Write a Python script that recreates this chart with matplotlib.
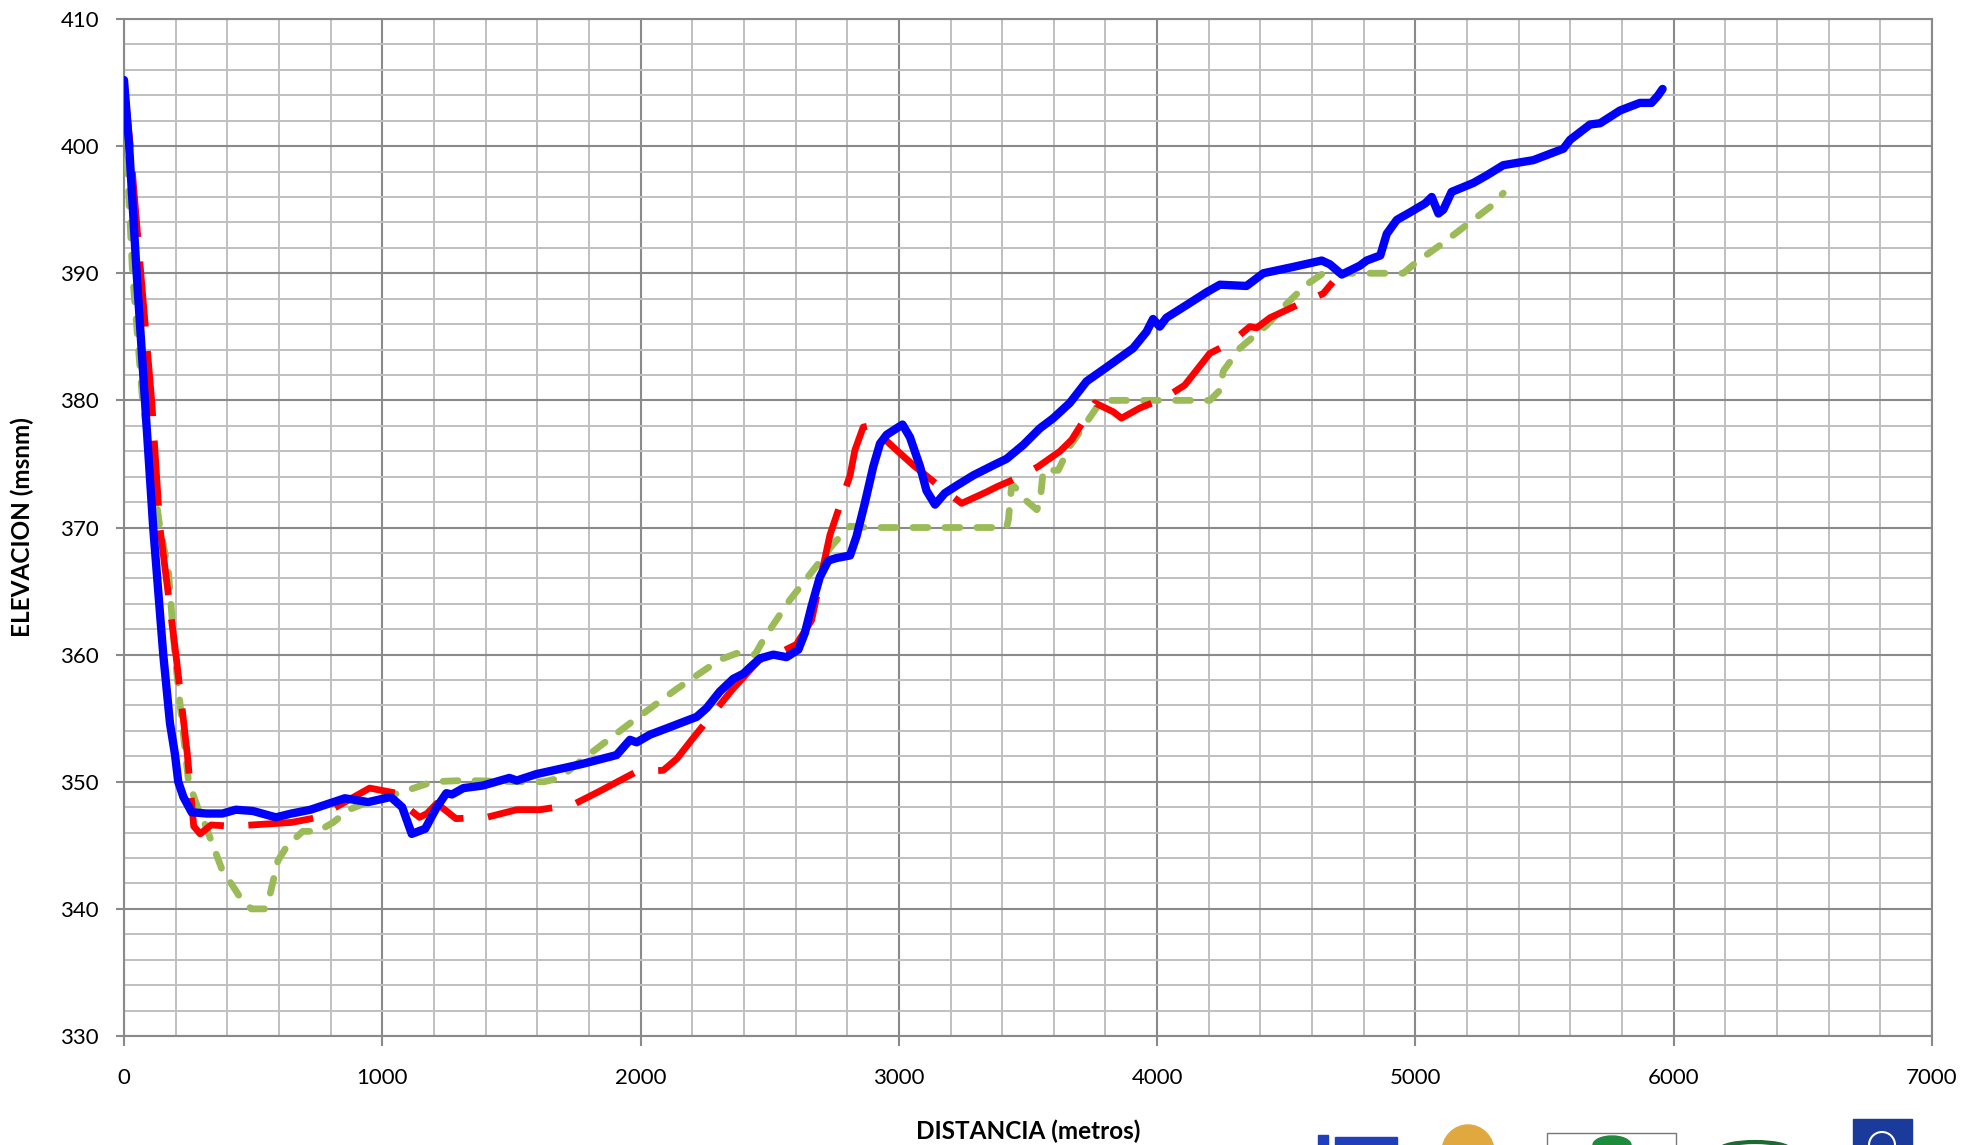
import matplotlib
matplotlib.use("Agg")
import matplotlib.pyplot as plt
from matplotlib.patches import Rectangle, Circle, Ellipse
import numpy as np

plt.rcParams['font.family'] = ['Lato', 'DejaVu Sans']

# ---------------- data ----------------
dist_blue = [0, 20, 49, 81, 113, 152, 178, 197, 210, 230, 262, 320, 381, 433, 499, 588, 648, 722,
             796, 855, 945, 1033, 1077, 1114, 1166, 1211, 1248, 1270, 1314, 1389, 1492, 1521, 1596,
             1774, 1907, 1959, 1985, 2036, 2101, 2178, 2217, 2256, 2307, 2359, 2398, 2424, 2462,
             2514, 2565, 2611, 2636, 2662, 2694, 2727, 2759, 2811, 2836, 2868, 2901, 2927, 2953,
             3014, 3043, 3082, 3107, 3140, 3178, 3224, 3288, 3366, 3417, 3482, 3546, 3598, 3662,
             3727, 3804, 3907, 3959, 3984, 4010, 4036, 4114, 4191, 4243, 4346, 4411, 4527, 4637,
             4669, 4715, 4785, 4811, 4864, 4889, 4928, 4980, 5038, 5063, 5089, 5108, 5140, 5224,
             5276, 5340, 5457, 5573, 5599, 5676, 5715, 5792, 5830, 5869, 5914, 5940, 5957]
elev_blue = [405.2, 400, 390, 380, 370, 360, 354.6, 352.2, 350, 348.8, 347.6, 347.5, 347.5, 347.8,
             347.7, 347.2, 347.5, 347.8, 348.3, 348.7, 348.4, 348.8, 348.0, 345.9, 346.3, 348.0,
             349.1, 349.0, 349.5, 349.7, 350.3, 350.1, 350.6, 351.4, 352.1, 353.3, 353.1, 353.7,
             354.2, 354.8, 355.1, 355.8, 357.1, 358.1, 358.5, 359.0, 359.7, 360.0, 359.8, 360.4,
             361.7, 363.8, 366.1, 367.4, 367.6, 367.8, 369.3, 371.9, 374.8, 376.6, 377.3, 378.1,
             377.1, 374.8, 372.9, 371.8, 372.7, 373.3, 374.1, 374.9, 375.4, 376.5, 377.8, 378.6,
             379.8, 381.5, 382.6, 384.1, 385.4, 386.4, 385.8, 386.5, 387.5, 388.5, 389.1, 389.0,
             390.0, 390.5, 391.0, 390.7, 389.9, 390.6, 391.0, 391.4, 393.1, 394.2, 394.8, 395.5,
             396.0, 394.7, 395.0, 396.4, 397.1, 397.7, 398.5, 398.9, 399.8, 400.5, 401.7, 401.8,
             402.8, 403.1, 403.4, 403.4, 404.0, 404.5]

dist_red = [0, 24, 65, 107, 139, 201, 245, 270, 295, 337, 418, 648, 751, 855, 951, 1055, 1107,
            1144, 1173, 1211, 1285, 1404, 1520, 1610, 1739, 1836, 1920, 1985, 2088, 2140, 2198,
            2353, 2460, 2514, 2603, 2662, 2733, 2811, 2830, 2862, 2888, 2927, 2985, 3056, 3159,
            3243, 3340, 3379, 3469, 3540, 3624, 3669, 3759, 3830, 3862, 3933, 4030, 4107, 4204,
            4282, 4359, 4385, 4437, 4553, 4643, 4680]
elev_red = [405, 400, 390, 380, 370, 360, 352.2, 346.5, 345.9, 346.6, 346.5, 346.8, 347.2, 348.4,
            349.5, 349.1, 347.8, 347.2, 347.5, 348.3, 347.1, 347.2, 347.8, 347.8, 348.2, 349.2,
            350.1, 350.8, 350.9, 351.8, 353.3, 357.2, 359.6, 359.9, 360.8, 362.7, 369.4, 374.1,
            376.1, 377.9, 378.0, 377.3, 376.2, 374.9, 373.2, 371.9, 372.8, 373.2, 374.0, 374.8,
            376.0, 376.9, 379.8, 379.1, 378.6, 379.4, 380.2, 381.2, 383.7, 384.5, 385.8, 385.7,
            386.5, 387.6, 388.4, 389.3]

dist_green = [0, 33, 72, 139, 172, 197, 223, 250, 285, 307, 337, 381, 418, 456, 493, 545, 566, 596,
              633, 692, 751, 810, 870, 944, 1063, 1196, 1314, 1537, 1626, 1688, 1778, 1972, 2140,
              2307, 2372, 2443, 2482, 2578, 2682, 2746, 2811, 2875, 3417, 3424, 3437, 3463, 3488,
              3534, 3546, 3559, 3617, 3662, 3714, 3778, 3817, 4204, 4243, 4256, 4320, 4424, 4501,
              4578, 4650, 4746, 4953, 5005, 5095, 5198, 5301, 5340]
elev_green = [404, 390, 380, 370, 366.6, 360, 355, 350, 348, 347.0, 345.4, 343.0, 341.9, 340.7,
              340.0, 340.0, 341.2, 343.8, 345.0, 346.1, 346.1, 346.8, 347.8, 348.4, 349.1, 350.0,
              350.1, 350.0, 350.0, 350.3, 351.8, 354.8, 357.3, 359.6, 360.1, 360.0, 361.4, 364.3,
              367.0, 368.7, 370.1, 370.0, 370.0, 370.6, 373.4, 372.9, 372.2, 371.4, 371.9, 374.5,
              374.5, 376.4, 377.9, 379.8, 380.0, 380.0, 380.8, 382.3, 384.1, 385.9, 387.6, 389.1,
              390.1, 390.0, 390.0, 390.9, 392.2, 393.8, 395.4, 396.3]

x_ticks = [0, 1000, 2000, 3000, 4000, 5000, 6000, 7000]
y_ticks = [330, 340, 350, 360, 370, 380, 390, 400, 410]
x_label = "DISTANCIA (metros)"
y_label = "ELEVACION (msnm)"

# ---------------- figure ----------------
W, H = 1963, 1145
fig = plt.figure(figsize=(W / 100, H / 100), dpi=100)
ax = fig.add_axes([124 / W, 1 - 1036 / H, (1932 - 124) / W, (1036 - 19) / H])

major_c = '#8a8a8a'
minor_c = '#c0c0c0'

ax.set_xlim(0, 7000)
ax.set_ylim(330, 410)
ax.set_xticks(x_ticks)
ax.set_yticks(y_ticks)
ax.set_xticks(np.arange(0, 7001, 200), minor=True)
ax.set_yticks(np.arange(330, 411, 2), minor=True)
ax.grid(which='minor', color=minor_c, linewidth=1.4, zorder=0)
ax.grid(which='major', color=major_c, linewidth=1.5, zorder=0)
ax.set_axisbelow(True)
for s in ax.spines.values():
    s.set_color(major_c)
    s.set_linewidth(1.5)

ax.tick_params(axis='y', which='major', direction='out', length=6, width=1.5, color=major_c,
               labelsize=16, pad=12, labelcolor='black')
ax.tick_params(axis='x', which='major', direction='out', length=7, width=1.5, color=major_c,
               labelsize=16, pad=16, labelcolor='black')
ax.tick_params(which='minor', length=0)

ax.plot(dist_green, elev_green, color='#9bbb59', linewidth=4.9, dashes=(2.2, 2.5),
        dash_capstyle='round', solid_joinstyle='round', dash_joinstyle='round', zorder=3)
ax.plot(dist_red, elev_red, color='#ff0000', linewidth=4.9, dashes=(9.6, 3.6),
        dash_capstyle='butt', dash_joinstyle='round', zorder=4)
ax.plot(dist_blue, elev_blue, color='#0000ff', linewidth=6.0, solid_capstyle='round',
        solid_joinstyle='round', zorder=5)

fig.text(1028 / W, 1 - 1131 / H, x_label, ha='center', va='center', fontsize=17.5,
         fontweight='bold')
fig.text(22 / W, 1 - 527 / H, y_label, ha='center', va='center', fontsize=17.5,
         fontweight='bold', rotation=90)

# ---------------- logo strip (partially visible at the bottom) ----------------
def fx(px):
    return px / W

def fy(py):
    return 1 - py / H

blue_logo = '#1f3fbf'
fig.patches.append(Rectangle((fx(1318), fy(1145)), 10 / W, 10 / H, transform=fig.transFigure,
                             color=blue_logo))
fig.patches.append(Rectangle((fx(1335), fy(1145)), 62 / W, 8 / H, transform=fig.transFigure,
                             color=blue_logo))
fig.patches.append(Ellipse((fx(1468), fy(1152)), 52 / W, 54 / H, transform=fig.transFigure,
                           color='#e0a83f'))
fig.patches.append(Rectangle((fx(1547), fy(1147)), 129 / W, 14 / H, transform=fig.transFigure,
                             facecolor='white', edgecolor='#777777', linewidth=1))
fig.patches.append(Ellipse((fx(1612), fy(1145)), 38 / W, 18 / H, transform=fig.transFigure,
                           color='#1e8a3c'))
fig.patches.append(Ellipse((fx(1755), fy(1150)), 70 / W, 16 / H, transform=fig.transFigure,
                           facecolor='none', edgecolor='#1c6b35', linewidth=3))
fig.patches.append(Rectangle((fx(1853), fy(1145)), 59 / W, 26 / H, transform=fig.transFigure,
                             color='#1a3a9c'))
fig.patches.append(Ellipse((fx(1882), fy(1145)), 26 / W, 26 / H, transform=fig.transFigure,
                           facecolor='none', edgecolor='white', linewidth=1.5))

fig.savefig('out.png', dpi=100)
